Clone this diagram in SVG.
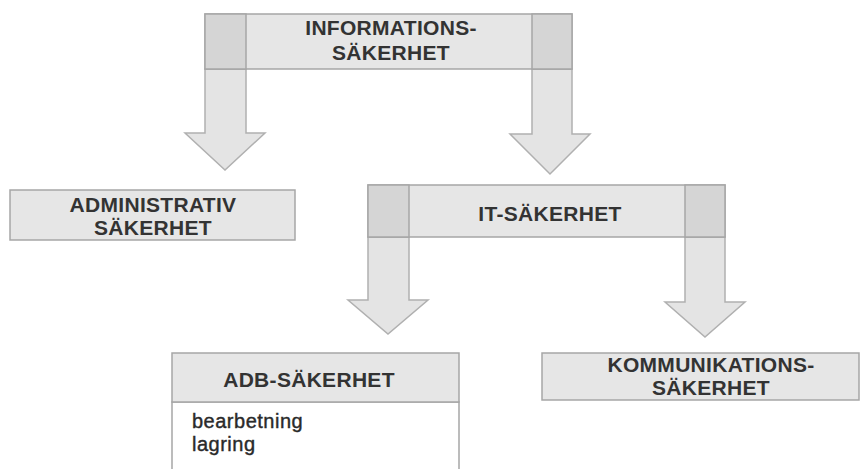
<svg xmlns="http://www.w3.org/2000/svg" width="861" height="469" viewBox="0 0 861 469">
<style>
.box{fill:#e6e6e6;stroke:#a6a6a6;stroke-width:1.5}
.dark{fill:#d5d5d5;stroke:#a6a6a6;stroke-width:1.5}
.arrow{fill:#e4e4e4;stroke:#b0b0b0;stroke-width:1.5;stroke-linejoin:miter}
.body{fill:#ffffff;stroke:#a6a6a6;stroke-width:1.5}
.lbl{font-family:"Liberation Sans",Arial,sans-serif;font-weight:bold;font-size:21px;fill:#333333;text-anchor:middle;letter-spacing:0.3px}
.item{font-family:"Liberation Sans",Arial,sans-serif;font-size:20px;fill:#2a2a2a;stroke:#2a2a2a;stroke-width:0.4;letter-spacing:0.5px}
</style>
<rect width="861" height="469" fill="#ffffff"/>
<g id="connectors">
  <polygon class="arrow" points="205,69 246,69 246,133 265,133 225,170 185,133 205,133"/>
  <polygon class="arrow" points="532,69 572,69 572,134 590,134 550,174 510,134 532,134"/>
  <polygon class="arrow" points="368,237 409,237 409,300 428,300 388,334 348,300 368,300"/>
  <polygon class="arrow" points="685,237 725,237 725,302 745,302 705,337 665,302 685,302"/>
</g>
<g id="informationssakerhet">
  <rect class="box" x="205" y="14" width="367" height="55"/>
  <rect class="dark" x="205" y="14" width="41" height="55"/>
  <rect class="dark" x="532" y="14" width="40" height="55"/>
  <text class="lbl" x="391" y="35">INFORMATIONS-</text>
  <text class="lbl" x="391" y="60">SÄKERHET</text>
</g>
<g id="administrativ">
  <rect class="box" x="10" y="190" width="285" height="50"/>
  <text class="lbl" x="153" y="212">ADMINISTRATIV</text>
  <text class="lbl" x="153" y="235">SÄKERHET</text>
</g>
<g id="it-sakerhet">
  <rect class="box" x="368" y="185" width="357" height="52"/>
  <rect class="dark" x="368" y="185" width="41" height="52"/>
  <rect class="dark" x="685" y="185" width="40" height="52"/>
  <text class="lbl" x="550" y="221">IT-SÄKERHET</text>
</g>
<g id="adb-sakerhet">
  <rect class="body" x="172" y="402" width="287" height="80"/>
  <rect class="box" x="172" y="353" width="287" height="49"/>
  <text class="lbl" x="309" y="387">ADB-SÄKERHET</text>
  <text class="item" x="192" y="428">bearbetning</text>
  <text class="item" x="192" y="451">lagring</text>
</g>
<g id="kommunikationssakerhet">
  <rect class="box" x="542" y="353" width="317" height="47"/>
  <text class="lbl" x="711" y="372">KOMMUNIKATIONS-</text>
  <text class="lbl" x="711" y="395">SÄKERHET</text>
</g>
</svg>
